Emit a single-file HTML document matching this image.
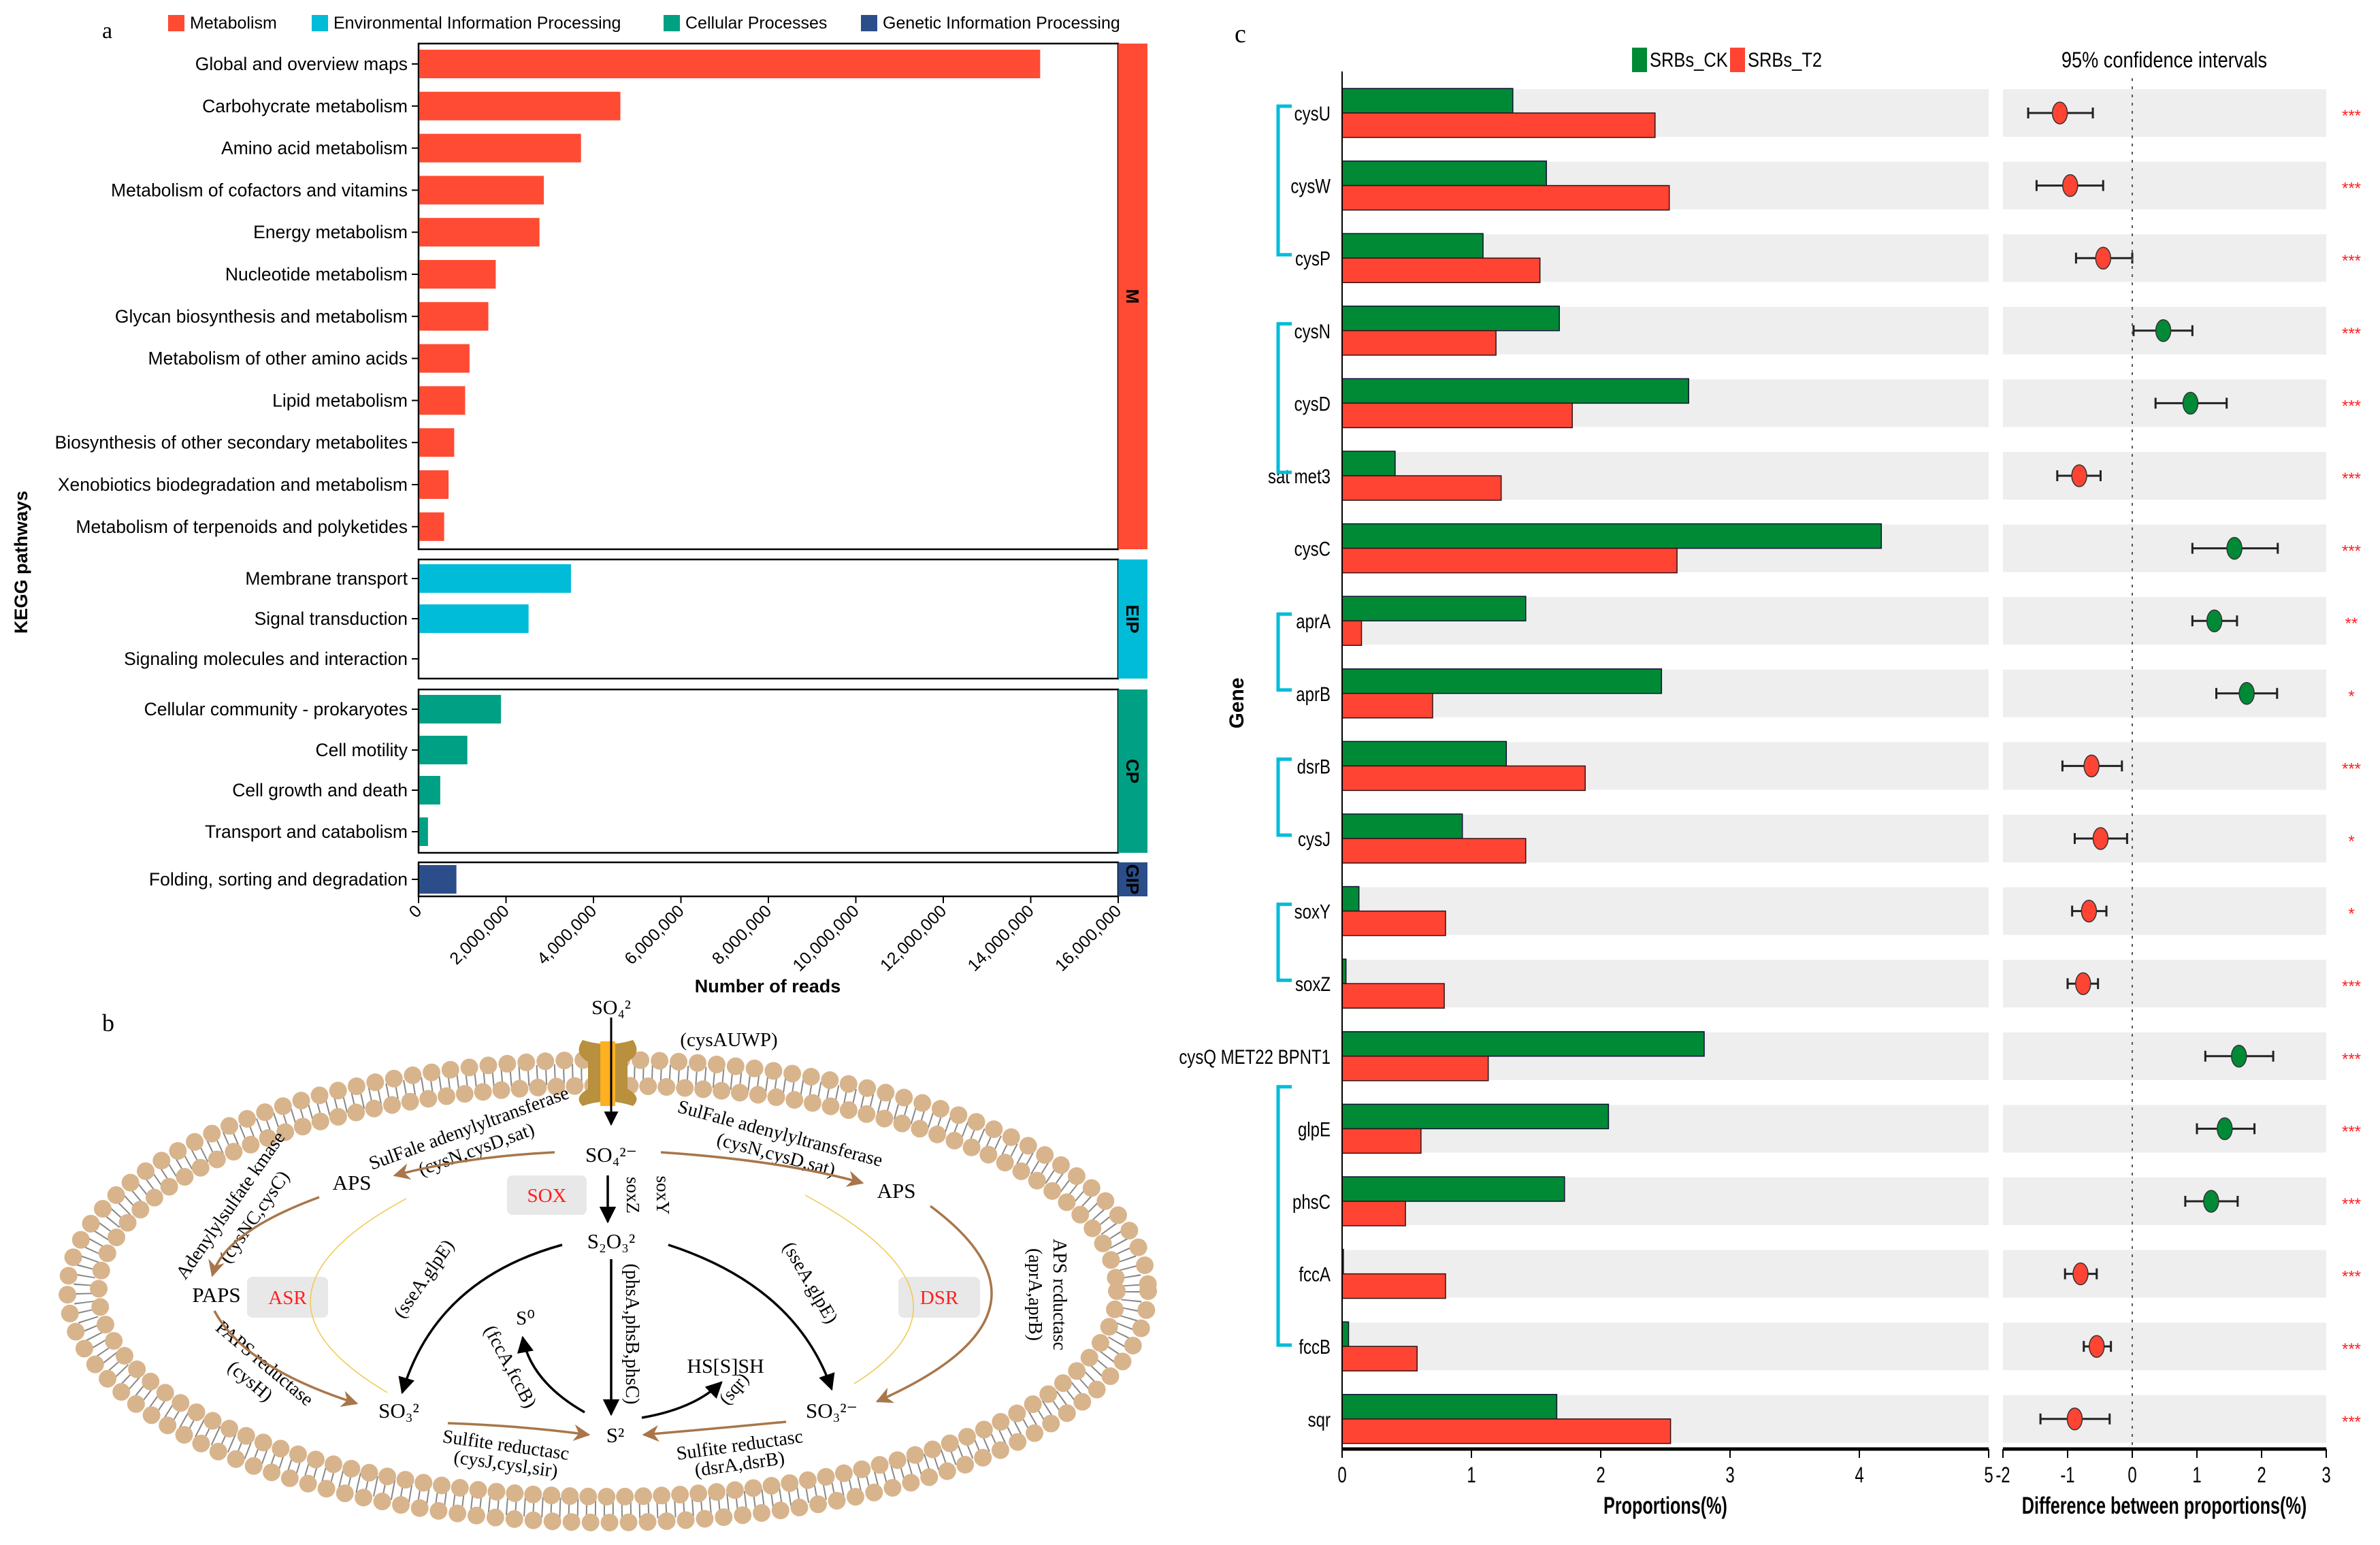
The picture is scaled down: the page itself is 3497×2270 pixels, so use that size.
<!DOCTYPE html>
<html><head><meta charset="utf-8"><style>
html,body{margin:0;padding:0;background:#fff}
svg{display:block}
text{font-family:"Liberation Sans",sans-serif}
.serif{font-family:"Liberation Serif",serif}
</style></head><body>
<svg id="fig" width="3497" height="2270" viewBox="0 0 3497 2270" xmlns="http://www.w3.org/2000/svg">
<defs>
<marker id="ab" viewBox="0 0 10 10" refX="9" refY="5" markerWidth="7" markerHeight="7" orient="auto"><path d="M0,0L10,5L0,10z" fill="#000"/></marker>
<marker id="abr" viewBox="0 0 10 10" refX="9" refY="5" markerWidth="7" markerHeight="7" orient="auto"><path d="M0,0L10,5L0,10L3,5z" fill="#a8764a"/></marker>
</defs>
<g id="panelA"></g>
<g id="panelB"></g>
<g id="panelC"></g>
</svg>
<script>
// ---------- Panel A data ----------
const keggCategories=["Global and overview maps","Carbohycrate metabolism","Amino acid metabolism","Metabolism of cofactors and vitamins","Energy metabolism","Nucleotide metabolism","Glycan biosynthesis and metabolism","Metabolism of other amino acids","Lipid metabolism","Biosynthesis of other secondary metabolites","Xenobiotics biodegradation and metabolism","Metabolism of terpenoids and polyketides","Membrane transport","Signal transduction","Signaling molecules and interaction","Cellular community - prokaryotes","Cell motility","Cell growth and death","Transport and catabolism","Folding, sorting and degradation"];
const keggReads=[14200000,4600000,3700000,2850000,2750000,1750000,1580000,1150000,1050000,800000,670000,570000,3470000,2500000,0,1870000,1100000,480000,200000,850000];
const keggGroup=["M","M","M","M","M","M","M","M","M","M","M","M","EIP","EIP","EIP","CP","CP","CP","CP","GIP"];
const keggTicks=[0,2000000,4000000,6000000,8000000,10000000,12000000,14000000,16000000];
const keggTickLabels=["0","2,000,000","4,000,000","6,000,000","8,000,000","10,000,000","12,000,000","14,000,000","16,000,000"];
const groupNames=["Metabolism","Environmental Information Processing","Cellular Processes","Genetic Information Processing"];
// ---------- Panel C data ----------
const genes=["cysU","cysW","cysP","cysN","cysD","sat met3","cysC","aprA","aprB","dsrB","cysJ","soxY","soxZ","cysQ MET22 BPNT1","glpE","phsC","fccA","fccB","sqr"];
const propCK=[1.32,1.58,1.09,1.68,2.68,0.41,4.17,1.42,2.47,1.27,0.93,0.13,0.03,2.80,2.06,1.72,0.01,0.05,1.66];
const propT2=[2.42,2.53,1.53,1.19,1.78,1.23,2.59,0.15,0.70,1.88,1.42,0.80,0.79,1.13,0.61,0.49,0.80,0.58,2.54];
const diffMean=[-1.12,-0.96,-0.45,0.48,0.90,-0.82,1.58,1.27,1.77,-0.63,-0.49,-0.67,-0.76,1.65,1.43,1.22,-0.80,-0.55,-0.89];
const diffLow=[-1.61,-1.48,-0.87,0.02,0.36,-1.16,0.93,0.93,1.30,-1.08,-0.89,-0.93,-1.00,1.13,1.00,0.82,-1.04,-0.75,-1.42];
const diffHigh=[-0.61,-0.45,0.00,0.93,1.46,-0.49,2.25,1.62,2.24,-0.16,-0.08,-0.40,-0.53,2.18,1.89,1.63,-0.55,-0.33,-0.35];
const signif=["***","***","***","***","***","***","***","**","*","***","*","*","***","***","***","***","***","***","***"];
const propTicks=[0,1,2,3,4,5];
const diffTicks=[-2,-1,0,1,2,3];
const bracketGroups=[[0,2],[3,5],[7,8],[9,10],[11,12],[14,17]];

const NS="http://www.w3.org/2000/svg";
function mk(parent,tag,attrs,txt){const e=document.createElementNS(NS,tag);for(const k in attrs)e.setAttribute(k,attrs[k]);if(txt!==undefined)e.textContent=txt;parent.appendChild(e);return e;}

// ===== Panel A =====
(function(){
const g=document.getElementById('panelA');
const x0=615,x1=1643,maxV=16000000;
const X=v=>x0+(v/maxV)*(x1-x0);
const colors={M:"#ff4b33",EIP:"#00bcd8",CP:"#00a085",GIP:"#2b4e8a"};
const centers=[];for(let i=0;i<12;i++)centers.push(94+i*61.8);
centers.push(850,909,968,1042,1102,1161,1222,1292);
const boxes=[["M",64,807],["EIP",822,997],["CP",1013,1253],["GIP",1267,1317]];
let t=mk(g,'text',{x:150,y:56,'font-size':34,class:'serif'},'a');

const lx=[247,458,975,1265];
groupNames.forEach((n,i)=>{
 const r=mk(g,'rect',{x:lx[i],y:22,width:24,height:24,fill:Object.values(colors)[i]});
 
 const tx=mk(g,'text',{x:lx[i]+32,y:42,'font-size':25},n);
 
});
boxes.forEach(b=>{
 const r=mk(g,'rect',{x:x0,y:b[1],width:x1-x0,height:b[2]-b[1],fill:'none',stroke:'#000','stroke-width':2.5});
 
 const s=mk(g,'rect',{x:x1,y:b[1],width:43,height:b[2]-b[1],fill:colors[b[0]]});
 
 const cy=(b[1]+b[2])/2;
 const st=mk(g,'text',{x:x1+21,y:cy,'font-size':26,'font-weight':'bold','text-anchor':'middle',transform:`rotate(90 ${x1+21} ${cy})`,dy:9},b[0]);
 
});
keggCategories.forEach((c,i)=>{
 const cy=centers[i];
 const bar=mk(g,'rect',{x:x0+1,y:cy-21,width:Math.max(0,X(keggReads[i])-x0),height:42,fill:colors[keggGroup[i]]});
 
 mk(g,'line',{x1:x0-10,x2:x0,y1:cy,y2:cy,stroke:'#000','stroke-width':2});
 const lt=mk(g,'text',{x:x0-16,y:cy+9,'font-size':26.5,'text-anchor':'end'},c);
 
});
mk(g,'line',{x1:x0,x2:x1,y1:1317,y2:1317,stroke:'#000','stroke-width':2});
keggTicks.forEach((v,i)=>{
 const x=X(v);
 mk(g,'line',{x1:x,x2:x,y1:1317,y2:1327,stroke:'#000','stroke-width':2});
 const tl=mk(g,'text',{x:x+6,y:1340,'font-size':25,'text-anchor':'end',transform:`rotate(-45 ${x+6} 1340)`},keggTickLabels[i]);
 
});
let xt=mk(g,'text',{x:1128,y:1458,'font-size':27,'font-weight':'bold','text-anchor':'middle'},'Number of reads');

let yt=mk(g,'text',{x:40,y:826,'font-size':27,'font-weight':'bold','text-anchor':'middle',transform:'rotate(-90 40 826)'},'KEGG pathways');

})();

// ===== Panel B =====
(function(){
const g=document.getElementById('panelB');
const cx=893,cy=1897;
let t=mk(g,'text',{x:150,y:1515,'font-size':36,class:'serif'},'b');

const mem=mk(g,'g',{});

mk(mem,'ellipse',{cx,cy,rx:770,ry:320,fill:'none',stroke:'#555','stroke-width':30,'stroke-dasharray':'2 11',opacity:0.7});
mk(mem,'ellipse',{cx,cy,rx:794,ry:340,fill:'none',stroke:'#d8b48c','stroke-width':26,'stroke-dasharray':'0 28','stroke-linecap':'round'});
mk(mem,'ellipse',{cx,cy,rx:748,ry:302,fill:'none',stroke:'#d8b48c','stroke-width':26,'stroke-dasharray':'0 27','stroke-linecap':'round'});
const ch=mk(g,'path',{d:'M856,1528 Q893,1540 930,1528 Q944,1548 922,1560 L922,1600 Q944,1612 930,1625 Q893,1612 856,1625 Q842,1612 864,1600 L864,1560 Q842,1548 856,1528Z',fill:'#b8903e'});

mk(g,'rect',{x:882,y:1530,width:22,height:95,fill:'#ffb020'});
mk(g,'line',{x1:898,y1:1495,x2:898,y2:1652,stroke:'#000','stroke-width':3,'marker-end':'url(#ab)'});
const labs=[
 [898,1490,'SO₄²',30,0],[1071,1537,'(cysAUWP)',29,0],
 [692,1666,'SulFale adenylyltransferase',28,-20],[703,1697,'(cysN,cysD,sat)',28,-20],
 [898,1707,'SO₄²⁻',31,0],
 [1144,1674,'SulFale adenylyltransferase',28,15],[1138,1705,'(cysN,cysD,sat)',28,15],
 [517,1748,'APS',31,0],[1317,1760,'APS',31,0],
 [898,1834,'S₂O₃²',31,0],
 [346,1776,'Adenylylsulfate kmase',28,-55],[381,1793,'(cysNC,cysC)',28,-55],
 [318,1913,'PAPS',31,0],
 [1548,1902,'APS rcductasc',28,90],[1512,1902,'(aprA,aprB)',28,90],
 [630,1884,'(sseA.glpE)',28,-55],[1183,1889,'(sseA.glpE)',28,60],
 [920,1960,'(phsA,phsB,phsC)',28,90],[965,1756,'soxY',27,90],[921,1756,'soxZ',27,90],
 [772,1946,'S⁰',29,0],[742,2012,'(fccA,fccB)',28,62],
 [1066,2017,'HS[S]SH',30,0],[1085,2046,'(sqr)',27,-50],
 [383,2010,'PAPS reductase',28,40],[362,2036,'(cysH)',28,40],
 [586,2083,'SO₃²',31,0],[1222,2083,'SO₃²⁻',31,0],[904,2119,'S²',31,0],
 [742,2132,'Sulfite reductasc',28,8],[742,2160,'(cysJ,cysl,sir)',28,8],
 [1088,2132,'Sulfite reductasc',28,-8],[1088,2160,'(dsrA,dsrB)',28,-8]
];
[[745,1727,117,58,'SOX'],[363,1876,119,60,'ASR'],[1320,1876,120,60,'DSR']].forEach(b=>{
 const r=mk(g,'rect',{x:b[0],y:b[1],width:b[2],height:b[3],rx:8,fill:'#e8e8e8'});
 
 const tt=mk(g,'text',{x:b[0]+b[2]/2,y:b[1]+b[3]/2+10,'font-size':29,fill:'#ff2020','text-anchor':'middle',class:'serif'},b[4]);
 
});
labs.forEach(l=>{
 const tt=mk(g,'text',{x:l[0],y:l[1],'font-size':l[3],fill:'#000','text-anchor':'middle',class:'serif',transform:`rotate(${l[4]} ${l[0]} ${l[1]})`},l[2]);
 
});
const black=['M826,1829 Q640,1880 591,2046','M982,1829 Q1170,1890 1222,2041','M898,1850 L898,2078','M859,2075 Q780,2030 768,1965','M943,2083 Q1020,2070 1060,2031','M893,1727 L893,1795'];
black.forEach(d=>{const e=mk(g,'path',{d,fill:'none',stroke:'#000','stroke-width':3.5,'marker-end':'url(#ab)'});});
const brown=['M815,1693 Q680,1700 580,1727','M971,1693 Q1150,1705 1267,1738','M469,1759 Q330,1810 312,1874','M315,1926 Q360,2010 524,2062','M1367,1772 Q1580,1930 1289,2059','M658,2091 Q770,2095 865,2108','M1155,2089 Q1040,2100 946,2108'];
brown.forEach(d=>{const e=mk(g,'path',{d,fill:'none',stroke:'#a8764a','stroke-width':3.5,'marker-end':'url(#abr)'});});
['M597,1761 Q330,1905 569,2046','M1183,1756 Q1460,1905 1255,2033'].forEach(d=>{const e=mk(g,'path',{d,fill:'none',stroke:'#f0c850','stroke-width':1.5});});
})();

// ===== Panel C =====
(function(){
const g=document.getElementById('panelC');
const px0=1972,px1=2922,dx0=2943,dx1=3418;
const PX=v=>px0+v/5*(px1-px0);
const DX=v=>dx0+(v+2)/5*(dx1-dx0);
const RY=i=>166+i*106.6;
let t=mk(g,'text',{x:1814,y:62,'font-size':38,class:'serif'},'c');

[[2398,'#008a36','SRBs_CK'],[2542,'#ff4433','SRBs_T2']].forEach(l=>{
 const r=mk(g,'rect',{x:l[0],y:70,width:22,height:36,fill:l[1]});
 
 const tt=mk(g,'text',{x:l[0]+26,y:98,'font-size':30,transform:`scale(0.85 1)`,'transform-origin':`${l[0]+26} 98`},l[2]);
 
});
let ci=mk(g,'text',{x:3180,y:99,'font-size':32,'text-anchor':'middle',transform:'scale(0.85 1)','transform-origin':'3180 99'},'95% confidence intervals');

genes.forEach((gn,i)=>{
 const cy=RY(i);
 mk(g,'rect',{x:px0,y:cy-35,width:px1-px0,height:70,fill:'#eeeeee'});
 mk(g,'rect',{x:dx0,y:cy-35,width:dx1-dx0,height:70,fill:'#eeeeee'});
 const b1=mk(g,'rect',{x:px0,y:cy-36,width:PX(propCK[i])-px0,height:36,fill:'#008a36',stroke:'#113',"stroke-width":1.5});
 
 const b2=mk(g,'rect',{x:px0,y:cy,width:PX(propT2[i])-px0,height:36,fill:'#ff4433',stroke:'#311',"stroke-width":1.5});
 
 const gl=mk(g,'text',{x:1955,y:cy+11,'font-size':30,'text-anchor':'end',transform:'scale(0.8 1)','transform-origin':`1955 ${cy}`},gn);
 
 const col=diffMean[i]<0?'#ff4433':'#008a36';
 const eb=mk(g,'line',{x1:DX(diffLow[i]),x2:DX(diffHigh[i]),y1:cy,y2:cy,stroke:'#222','stroke-width':3});
 
 mk(g,'line',{x1:DX(diffLow[i]),x2:DX(diffLow[i]),y1:cy-8,y2:cy+8,stroke:'#222','stroke-width':3});
 mk(g,'line',{x1:DX(diffHigh[i]),x2:DX(diffHigh[i]),y1:cy-8,y2:cy+8,stroke:'#222','stroke-width':3});
 const pt=mk(g,'ellipse',{cx:DX(diffMean[i]),cy,rx:11,ry:16,fill:col,stroke:'#333','stroke-width':1.5});
 
 const st=mk(g,'text',{x:3455,y:cy+12,'font-size':24,fill:'#ff2020','text-anchor':'middle'},signif[i]);
 
});
bracketGroups.forEach(bg=>{
 const ya=bg[0]===14?RY(13)+45:RY(bg[0])-10, yb=bg[0]===14?RY(bg[1])-2:RY(bg[1])-5;
 const p=mk(g,'path',{d:`M1898,${ya} L1878,${ya} L1878,${yb} L1898,${yb}`,fill:'none',stroke:'#00bcd8','stroke-width':5});
 
});
mk(g,'line',{x1:px0,x2:px0,y1:105,y2:2129,stroke:'#000','stroke-width':2});
mk(g,'line',{x1:DX(0),x2:DX(0),y1:115,y2:2125,stroke:'#555','stroke-width':2,'stroke-dasharray':'4 8'});
const ax1=mk(g,'line',{x1:px0,x2:px1,y1:2129,y2:2129,stroke:'#000','stroke-width':5});

const ax2=mk(g,'line',{x1:dx0,x2:dx1,y1:2129,y2:2129,stroke:'#000','stroke-width':5});

propTicks.forEach(v=>{mk(g,'line',{x1:PX(v),x2:PX(v),y1:2129,y2:2142,stroke:'#000','stroke-width':2});
 const tl=mk(g,'text',{x:PX(v),y:2178,'font-size':32,'text-anchor':'middle',transform:'scale(0.75 1)','transform-origin':`${PX(v)} 2178`},String(v));
 });
diffTicks.forEach(v=>{mk(g,'line',{x1:DX(v),x2:DX(v),y1:2129,y2:2142,stroke:'#000','stroke-width':2});
 const tl=mk(g,'text',{x:DX(v),y:2178,'font-size':32,'text-anchor':'middle',transform:'scale(0.75 1)','transform-origin':`${DX(v)} 2178`},String(v));
 });
let a1=mk(g,'text',{x:2447,y:2224,'font-size':35,'font-weight':'bold','text-anchor':'middle',transform:'scale(0.72 1)','transform-origin':'2447 2224'},'Proportions(%)');

let a2=mk(g,'text',{x:3180,y:2224,'font-size':35,'font-weight':'bold','text-anchor':'middle',transform:'scale(0.72 1)','transform-origin':'3180 2224'},'Difference between proportions(%)');

let gy=mk(g,'text',{x:1827,y:1033,'font-size':30,'font-weight':'bold','text-anchor':'middle',transform:'rotate(-90 1827 1033)'},'Gene');

})();
</script>
</body></html>
